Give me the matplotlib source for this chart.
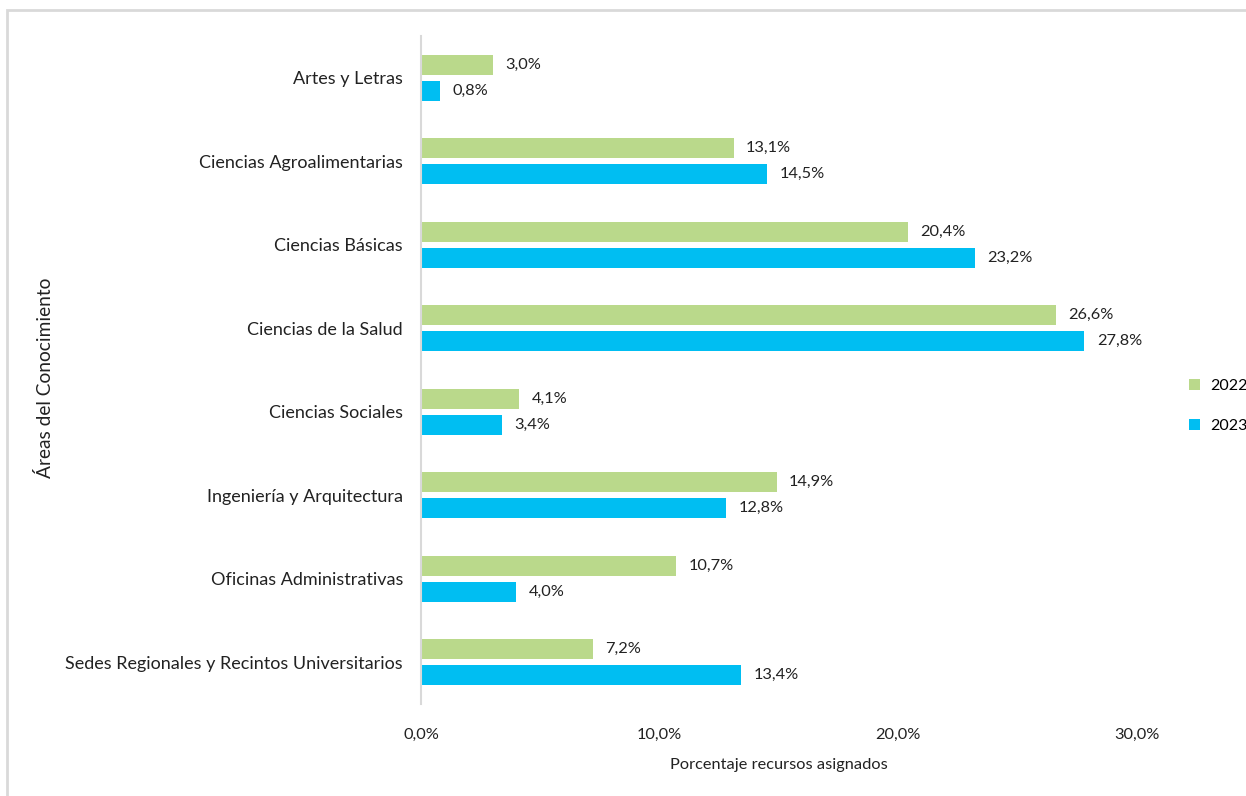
import matplotlib
matplotlib.use('Agg')
import matplotlib.pyplot as plt
from matplotlib.patches import Rectangle
import numpy as np

# data
categorias = ['Artes y Letras', 'Ciencias Agroalimentarias', 'Ciencias Básicas',
              'Ciencias de la Salud', 'Ciencias Sociales', 'Ingeniería y Arquitectura',
              'Oficinas Administrativas', 'Sedes Regionales y Recintos Universitarios']
valores_2022 = [3.0, 13.1, 20.4, 26.6, 4.1, 14.9, 10.7, 7.2]
valores_2023 = [0.8, 14.5, 23.2, 27.8, 3.4, 12.8, 4.0, 13.4]
ticks_x = [0, 10, 20, 30]

color_2022 = '#BAD98B'
color_2023 = '#00BEF2'

plt.rcParams['font.family'] = ['Lato', 'DejaVu Sans']

my_dpi = 100
W, H = 1246, 796
fig = plt.figure(figsize=(W/my_dpi, H/my_dpi), dpi=my_dpi)
ax = fig.add_axes([421/W, 1 - 704/H, (1137-421)/W, (704-36)/H])

# light gray frame around chart area (runs off right and bottom)
fig.patches.append(Rectangle((7/W, -0.1), 1.2, 1 - 10/H + 0.1, transform=fig.transFigure,
                             fill=False, edgecolor='#D9D9D9', linewidth=2))

y = np.arange(len(categorias))
h = 0.24
off = 0.156
b1 = ax.barh(y - off, valores_2022, height=h, color=color_2022, label='2022')
b2 = ax.barh(y + off, valores_2023, height=h, color=color_2023, label='2023')

#value labels with comma decimals
for bars in (b1, b2):
    for rect in bars:
        v = rect.get_width()
        ax.annotate('{:.1f}%'.format(v).replace('.', ','),
                    (v, rect.get_y() + rect.get_height()/2),
                    xytext=(9, 0), textcoords='offset points',
                    va='center', ha='left', fontsize=11.8, color='#222222')

ax.set_ylim(len(categorias) - 0.5, -0.5)
ax.set_xlim(0, 30)
ax.set_yticks(y)
ax.set_yticklabels(categorias, fontsize=13, color='#222222')
ax.set_xticks(ticks_x)
ax.set_xticklabels(['{:.1f}%'.format(t).replace('.', ',') for t in ticks_x],
                   fontsize=11.8, color='#222222')
ax.tick_params(axis='y', length=0, pad=13)
ax.tick_params(axis='x', length=0, pad=17)
for s in ['top', 'right', 'bottom']:
    ax.spines[s].set_visible(False)
ax.spines['left'].set_color('#D9D9D9')
ax.spines['left'].set_linewidth(1.5)
ax.patch.set_visible(False)

fig.text((421+1137)/2/W, 1 - 765/H, 'Porcentaje recursos asignados',
         ha='center', va='center', fontsize=11.8, color='#222222')
fig.text(45/W, 1 - 378/H, 'Áreas del Conocimiento', rotation=90,
         ha='center', va='center', fontsize=13.8, color='#222222')

leg = fig.legend(handles=[b1, b2], loc='center left',
                 bbox_to_anchor=(1189/W, 1 - 406/H),
                 frameon=False, handlelength=0.7, handleheight=0.7,
                 handletextpad=0.6, labelspacing=1.6, fontsize=11.5,
                 borderpad=0, borderaxespad=0)

fig.savefig('out.png', dpi=my_dpi)
